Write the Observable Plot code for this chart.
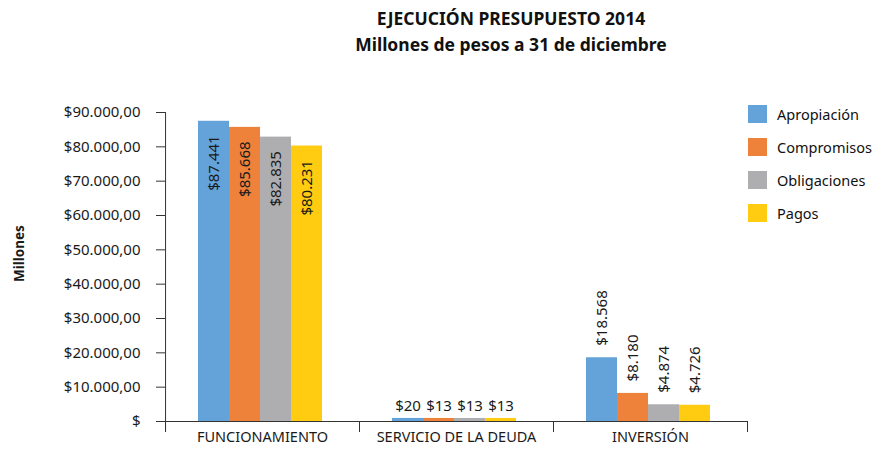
<!DOCTYPE html>
<html><head><meta charset="utf-8">
<script src="https://cdn.jsdelivr.net/npm/d3@7"></script>
<script src="https://cdn.jsdelivr.net/npm/@observablehq/plot@0.6"></script>
<style>
body{margin:0;background:#fff;font-family:"Noto Sans",sans-serif;}
#wrap{position:relative;width:875px;height:450px;}
#title{height:60px;box-sizing:border-box;padding-top:5px;padding-left:147px;text-align:center;font-weight:bold;font-size:17.5px;line-height:26px;color:#111;}
#legend{position:absolute;left:748px;top:97px;font-size:14.5px;color:#111;}
.row{display:flex;align-items:center;height:33px;}
.sw{width:19px;height:18px;margin-right:10px;}
</style></head><body>
<div id="wrap">
<div id="title">EJECUCIÓN PRESUPUESTO 2014<br>Millones de pesos a 31 de diciembre</div>
<div id="chart"></div>
<div id="legend"></div>
</div>
<script>
const categories = ["FUNCIONAMIENTO", "SERVICIO DE LA DEUDA", "INVERSIÓN"];
const series = ["Apropiación", "Compromisos", "Obligaciones", "Pagos"];
const apropiacion = [87441, 20, 18568];
const compromisos = [85668, 13, 8180];
const obligaciones = [82835, 13, 4874];
const pagos = [80231, 13, 4726];
const colors = ["#64a3d9", "#ee823b", "#aeaeb1", "#ffcc11"];
const yTicks = [0, 10000, 20000, 30000, 40000, 50000, 60000, 70000, 80000, 90000];
const yLabel = "Millones";

const valuesBySeries = [apropiacion, compromisos, obligaciones, pagos];
const rows = [];
categories.forEach((c, ci) => series.forEach((s, si) => rows.push({category: c, series: s, value: valuesBySeries[si][ci]})));

const locale = d3.formatLocale({decimal: ",", thousands: ".", grouping: [3], currency: ["$", ""]});
const fmtAxis = d => d === 0 ? "$" : locale.format("$,.2f")(d);
const fmtLabel = locale.format("$,.0f");

const width = 875, height = 390;
const marginLeft = 164, marginRight = 127, marginTop = 52, marginBottom = 29;
const padOuter = 1.12, align = 0.47;
const facetW = (width - marginLeft - marginRight) / categories.length;
const step = facetW / (series.length + 2 * padOuter);
const leftOuter = (facetW - series.length * step) * align;

const big = rows.filter(d => d.category !== categories[1]);
const small = rows.filter(d => d.category === categories[1]);
const func = rows.filter(d => d.category === categories[0]);
const inv = rows.filter(d => d.category === categories[2]);

const chart = Plot.plot({
  width, height, marginLeft, marginRight, marginTop, marginBottom,
  style: {fontFamily: "Noto Sans", fontSize: "15px", color: "#1a1a1a", background: "#fff"},
  fx: {domain: categories, padding: 0, axis: null},
  x: {domain: series, paddingInner: 0, paddingOuter: padOuter, align, axis: null},
  y: {domain: [0, 90000], axis: null},
  color: {domain: series, range: colors},
  marks: [
    Plot.barY(big, {fx: "category", x: "series", y: "value", fill: "series"}),
    Plot.barY(small, {fx: "category", x: "series", y: "value", fill: "series", insetTop: -3}),
    Plot.text(func, {fx: "category", x: "series", y: "value", text: d => fmtLabel(d.value), rotate: -90, textAnchor: "end", dy: 14, fontSize: 15, fill: "#1a1a1a"}),
    Plot.text(inv, {fx: "category", x: "series", y: "value", text: d => fmtLabel(d.value), rotate: -90, textAnchor: "start", dy: -12, fontSize: 15, fill: "#1a1a1a"}),
    Plot.text(small, {fx: "category", x: "series", y: "value", text: d => fmtLabel(d.value), lineAnchor: "bottom", dy: -10, fontSize: 15, fill: "#1a1a1a"}),
    Plot.ruleY([0], {insetLeft: -9, stroke: "#333"}),
    Plot.frame({anchor: "left", insetTop: height - marginTop - marginBottom, insetBottom: -10, stroke: "#333"}),
    Plot.frame({anchor: "right", insetTop: height - marginTop - marginBottom, insetBottom: -10, stroke: "#333"}),
    Plot.ruleX([series[0]], {fx: () => categories[0], x: d => d, y1: () => 90000, y2: () => 0, dx: -(leftOuter + step / 2), insetBottom: -10, stroke: "#333"}),
    Plot.axisY(yTicks, {tickSize: 9, tickPadding: 16, tickFormat: fmtAxis, fontSize: 15, label: null, stroke: "#333"}),
    Plot.axisFx({anchor: "bottom", tickSize: 0, tickPadding: 10, label: null, fontSize: 14.5}),
    Plot.text([yLabel], {fx: () => categories[0], frameAnchor: "left", dx: -146, dy: 15, rotate: -90, fontWeight: "bold", fontSize: 13.5, fill: "#1a1a1a"})
  ]
});
document.getElementById("chart").appendChild(chart);

const legend = document.getElementById("legend");
series.forEach((s, i) => {
  const r = document.createElement("div");
  r.className = "row";
  r.innerHTML = `<div class="sw" style="background:${colors[i]}"></div><span>${s}</span>`;
  legend.appendChild(r);
});
</script>
</body></html>
